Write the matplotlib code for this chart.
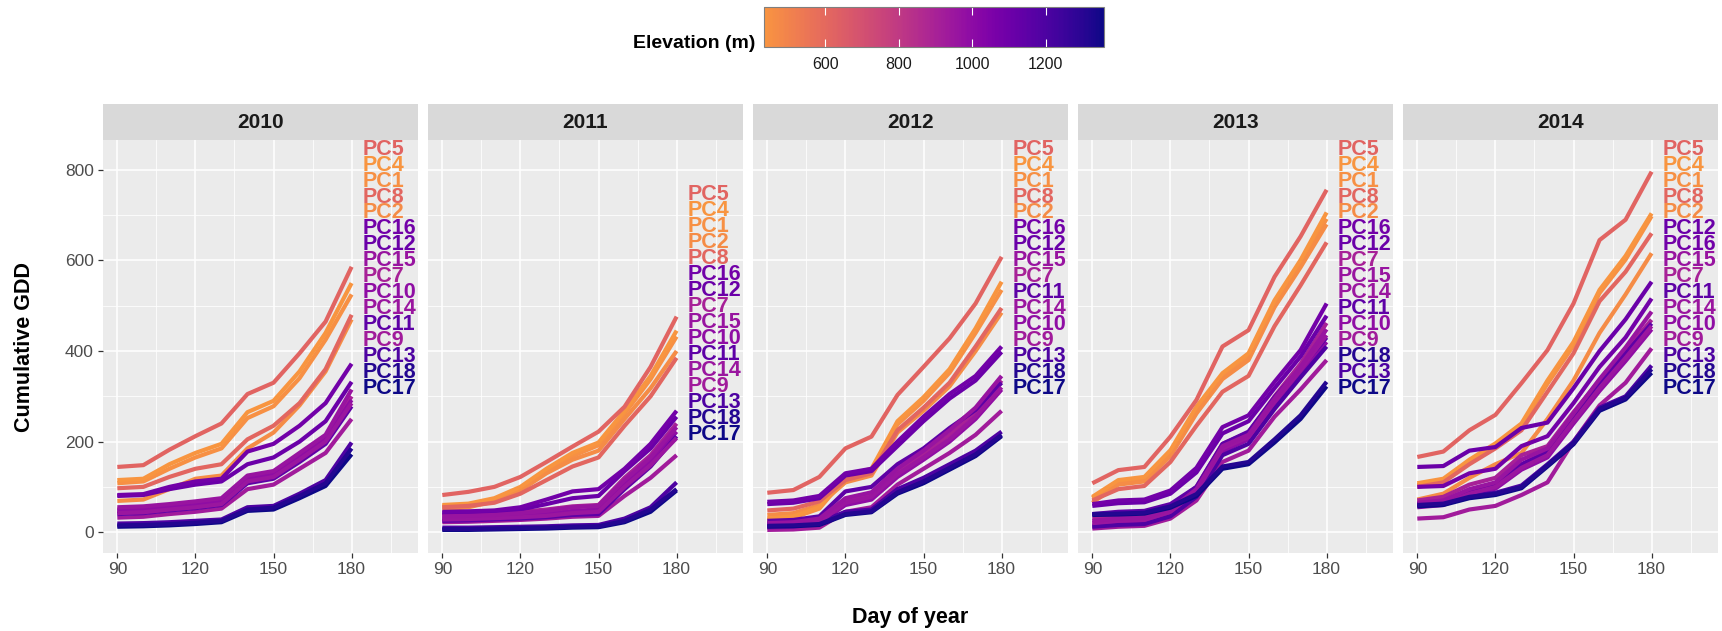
import numpy as np
import matplotlib.pyplot as plt
from matplotlib.colors import ListedColormap, Normalize
from matplotlib.cm import ScalarMappable

plt.rcParams['font.family'] = ['Liberation Sans', 'DejaVu Sans']

# ---- data -------------------------------------------------------------
days = [90, 100, 110, 120, 130, 140, 150, 160, 170, 180]
years = [2010, 2011, 2012, 2013, 2014]

sites = ['PC1', 'PC2', 'PC4', 'PC5', 'PC7', 'PC8', 'PC9', 'PC10',
         'PC11', 'PC12', 'PC13', 'PC14', 'PC15', 'PC16', 'PC17', 'PC18']
elevation = [450, 470, 434, 619, 902, 610, 927, 988,
             1148, 1111, 1198, 951, 964, 1087, 1358, 1309]

# cumulative growing degree days, sampled every 10 days
# (dict order = order of the site labels beside each panel)
gdd_2010 = {
    'PC5':  [144, 148, 182, 212, 240, 305, 330, 395, 465, 586],
    'PC4':  [115, 118, 150, 175, 195, 265, 290, 355, 440, 550],
    'PC1':  [108, 112, 140, 165, 185, 252, 278, 340, 425, 525],
    'PC8':  [97, 100, 122, 140, 150, 205, 235, 285, 360, 480],
    'PC2':  [69, 72, 95, 118, 125, 185, 220, 280, 355, 470],
    'PC16': [82, 84, 100, 112, 118, 178, 195, 235, 285, 372],
    'PC12': [80, 82, 95, 105, 112, 150, 165, 200, 245, 332],
    'PC15': [55, 57, 62, 68, 75, 125, 135, 175, 215, 315],
    'PC7':  [50, 52, 58, 63, 70, 120, 130, 168, 208, 300],
    'PC10': [47, 49, 55, 60, 67, 118, 127, 165, 205, 292],
    'PC14': [42, 44, 50, 55, 62, 112, 122, 160, 200, 285],
    'PC11': [40, 42, 48, 53, 60, 108, 118, 155, 195, 278],
    'PC9':  [32, 34, 40, 45, 52, 95, 105, 140, 175, 250],
    'PC13': [19, 20, 22, 25, 28, 55, 58, 85, 115, 198],
    'PC18': [15, 16, 18, 21, 25, 50, 54, 80, 108, 185],
    'PC17': [12, 13, 15, 18, 22, 47, 50, 75, 102, 172],
}
gdd_2011 = {
    'PC5':  [82, 89, 100, 122, 155, 189, 222, 277, 365, 476],
    'PC4':  [60, 63, 75, 100, 140, 175, 198, 268, 345, 445],
    'PC1':  [57, 60, 72, 96, 135, 168, 192, 262, 338, 432],
    'PC2':  [50, 55, 68, 92, 130, 160, 180, 250, 318, 400],
    'PC8':  [55, 58, 65, 85, 115, 145, 165, 235, 300, 385],
    'PC16': [45, 46, 48, 55, 72, 90, 95, 140, 195, 268],
    'PC12': [42, 43, 45, 50, 62, 75, 80, 135, 185, 255],
    'PC7':  [38, 39, 42, 45, 50, 57, 60, 120, 170, 240],
    'PC15': [35, 36, 38, 42, 47, 55, 58, 115, 165, 232],
    'PC10': [30, 31, 33, 36, 40, 47, 50, 108, 158, 222],
    'PC11': [25, 26, 28, 30, 33, 38, 40, 95, 145, 212],
    'PC14': [28, 29, 31, 33, 36, 42, 45, 100, 148, 208],
    'PC9':  [22, 23, 25, 27, 30, 34, 36, 80, 120, 170],
    'PC13': [10, 10, 11, 12, 13, 15, 16, 30, 55, 110],
    'PC18': [7, 7, 8, 9, 10, 12, 13, 25, 50, 95],
    'PC17': [5, 5, 6, 7, 8, 10, 11, 22, 45, 92],
}
gdd_2012 = {
    'PC5':  [87, 93, 122, 185, 211, 303, 365, 428, 505, 608],
    'PC4':  [30, 35, 55, 125, 140, 245, 298, 360, 450, 553],
    'PC1':  [27, 32, 52, 120, 135, 238, 290, 352, 440, 535],
    'PC8':  [48, 52, 68, 115, 130, 225, 275, 330, 410, 495],
    'PC2':  [38, 42, 60, 110, 125, 220, 268, 322, 400, 485],
    'PC16': [67, 70, 80, 130, 140, 200, 255, 305, 345, 410],
    'PC12': [62, 65, 75, 125, 135, 190, 245, 295, 335, 398],
    'PC15': [20, 22, 30, 75, 88, 140, 180, 225, 275, 345],
    'PC7':  [15, 17, 25, 70, 82, 135, 172, 215, 265, 335],
    'PC11': [25, 27, 35, 90, 100, 150, 185, 230, 270, 330],
    'PC14': [12, 14, 22, 65, 78, 128, 165, 205, 255, 320],
    'PC10': [10, 12, 20, 60, 72, 122, 160, 200, 250, 315],
    'PC9':  [5, 6, 10, 45, 55, 105, 140, 175, 215, 268],
    'PC13': [18, 19, 22, 45, 50, 95, 120, 150, 180, 222],
    'PC18': [14, 15, 18, 40, 46, 88, 112, 142, 172, 215],
    'PC17': [12, 13, 16, 38, 44, 85, 108, 138, 168, 212],
}
gdd_2013 = {
    'PC5':  [108, 137, 144, 211, 292, 410, 446, 564, 653, 756],
    'PC4':  [78, 115, 122, 181, 277, 351, 395, 512, 601, 706],
    'PC1':  [75, 112, 119, 176, 270, 345, 388, 505, 594, 692],
    'PC8':  [70, 95, 102, 155, 235, 310, 345, 455, 545, 640],
    'PC2':  [65, 105, 112, 168, 262, 338, 380, 497, 585, 680],
    'PC16': [62, 70, 72, 92, 142, 232, 258, 332, 402, 505],
    'PC12': [58, 64, 66, 85, 132, 218, 245, 318, 388, 478],
    'PC7':  [30, 35, 37, 55, 100, 195, 220, 300, 372, 462],
    'PC15': [25, 30, 32, 50, 95, 190, 215, 295, 365, 448],
    'PC14': [20, 25, 27, 45, 90, 185, 210, 288, 358, 435],
    'PC11': [40, 45, 47, 62, 100, 195, 222, 298, 362, 430],
    'PC10': [15, 20, 22, 40, 85, 178, 205, 282, 350, 420],
    'PC9':  [8, 12, 14, 30, 70, 155, 180, 255, 315, 380],
    'PC18': [40, 41, 43, 57, 84, 145, 155, 205, 258, 332],
    'PC13': [12, 16, 18, 35, 78, 170, 195, 272, 342, 410],
    'PC17': [38, 39, 41, 54, 80, 140, 150, 198, 250, 322],
}
gdd_2014 = {
    'PC5':  [166, 178, 225, 259, 329, 402, 505, 645, 690, 796],
    'PC4':  [108, 118, 160, 196, 240, 335, 420, 535, 610, 704],
    'PC1':  [104, 114, 155, 190, 235, 328, 412, 528, 602, 698],
    'PC8':  [100, 110, 150, 185, 225, 310, 395, 510, 575, 660],
    'PC2':  [72, 85, 120, 150, 175, 250, 335, 440, 525, 616],
    'PC12': [144, 146, 180, 188, 230, 242, 318, 400, 470, 553],
    'PC16': [100, 102, 130, 140, 190, 212, 285, 365, 430, 516],
    'PC15': [65, 70, 95, 110, 160, 185, 262, 338, 408, 487],
    'PC7':  [70, 78, 105, 120, 170, 190, 265, 335, 400, 469],
    'PC11': [62, 65, 90, 105, 150, 178, 255, 330, 395, 461],
    'PC14': [58, 62, 85, 100, 142, 170, 245, 318, 385, 455],
    'PC10': [55, 60, 82, 96, 138, 165, 240, 312, 378, 448],
    'PC9':  [30, 33, 50, 58, 82, 110, 200, 280, 330, 406],
    'PC13': [62, 66, 80, 87, 103, 150, 200, 275, 300, 368],
    'PC18': [60, 63, 78, 85, 100, 148, 197, 272, 297, 360],
    'PC17': [57, 60, 75, 82, 97, 145, 194, 268, 293, 352],
}
gdd = {2010: gdd_2010, 2011: gdd_2011, 2012: gdd_2012,
       2013: gdd_2013, 2014: gdd_2014}

# ---- colours ------------------------------------------------------------
cmap = ListedColormap(plt.cm.plasma(np.linspace(0, 0.75, 256))[::-1])
norm = Normalize(min(elevation), max(elevation))
site_color = {s: cmap(norm(e)) for s, e in zip(sites, elevation)}

# ---- figure -------------------------------------------------------------
W, H = 1722, 631
fig = plt.figure(figsize=(W / 100, H / 100), dpi=100)

panel_left = [103, 428, 753, 1078, 1403]
panel_w, panel_top, panel_bot = 315, 140, 553
strip_top = 104

for i, year in enumerate(years):
    x0 = panel_left[i]
    ax = fig.add_axes([x0 / W, 1 - panel_bot / H, panel_w / W,
                       (panel_bot - panel_top) / H])
    ax.set_facecolor('#EBEBEB')
    for s in ax.spines.values():
        s.set_visible(False)
    ax.set_xlim(84.5, 205.5)
    ax.set_ylim(-46, 866)
    ax.set_xticks([90, 120, 150, 180])
    ax.set_xticks([105, 135, 165, 195], minor=True)
    ax.set_yticks([0, 200, 400, 600, 800])
    ax.set_yticks([100, 300, 500, 700], minor=True)
    ax.grid(which='major', color='white', lw=1.1)
    ax.grid(which='minor', color='white', lw=0.55)
    ax.set_axisbelow(True)
    ax.tick_params(which='major', length=3.5, width=0.9, color='#333333',
                   labelcolor='#4D4D4D', labelsize=12.5, pad=3)
    ax.tick_params(which='minor', length=0)
    if i > 0:
        ax.tick_params(axis='y', length=0, labelleft=False)

    series = gdd[year]
    for site in sites:
        ax.plot(days, series[site], color=site_color[site], lw=3.0,
                solid_capstyle='butt', solid_joinstyle='round', zorder=3)

    # site labels stacked beside the line ends
    top = min(846, max(v[-1] for v in series.values()) + 270)
    for k, site in enumerate(series):
        ax.text(184.3, top - k * 35.3, site, color=site_color[site],
                fontsize=15.5, fontweight='bold', ha='left', va='center',
                clip_on=False, zorder=4)

    # facet strip
    sax = fig.add_axes([x0 / W, 1 - panel_top / H, panel_w / W,
                        (panel_top - strip_top) / H])
    sax.set_facecolor('#D9D9D9')
    sax.set_xticks([])
    sax.set_yticks([])
    for s in sax.spines.values():
        s.set_visible(False)
    sax.text(0.5, 0.5, str(year), ha='center', va='center', fontsize=15,
             fontweight='bold', color='#1A1A1A', transform=sax.transAxes)

fig.text(25 / W, 1 - 347 / H, 'Cumulative GDD', rotation=90, ha='center',
         va='center', fontsize=15.5, fontweight='bold')
fig.text(910 / W, 1 - 617 / H, 'Day of year', ha='center', va='center',
         fontsize=15.5, fontweight='bold')

# ---- colour bar ---------------------------------------------------------
cax = fig.add_axes([764 / W, 1 - 47 / H, 340 / W, 40 / H])
cb = fig.colorbar(ScalarMappable(norm=norm, cmap=cmap), cax=cax,
                  orientation='horizontal')
cb.set_ticks([600, 800, 1000, 1200])
cb.outline.set_edgecolor('#7F7F7F')
cb.outline.set_linewidth(0.8)
cax.tick_params(direction='in', color='white', length=6, width=0.8,
                top=True, labelsize=11.5, labelcolor='#1A1A1A', pad=7)
fig.text(755 / W, 1 - 44 / H, 'Elevation (m)', ha='right', va='center',
         fontsize=14, fontweight='bold')

fig.savefig('out.png', dpi=100)
